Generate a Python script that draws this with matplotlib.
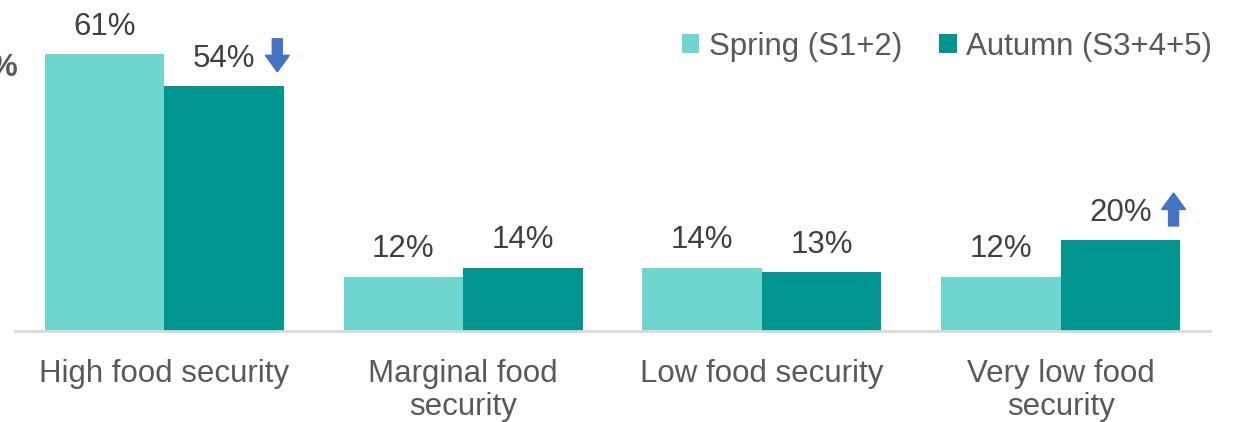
import matplotlib.pyplot as plt
import numpy as np
from matplotlib.patches import Polygon
from matplotlib.transforms import ScaledTranslation

plt.rcParams['font.family'] = ['Liberation Sans', 'DejaVu Sans']

categories = ['High food security', 'Marginal food\nsecurity',
              'Low food security', 'Very low food\nsecurity']
spring = [61, 12, 14, 12]
autumn = [54, 14, 13, 20]
series_names = ['Spring (S1+2)', 'Autumn (S3+4+5)']
# change marker next to the autumn label: -1 down, +1 up, 0 none
change = [-1, 0, 0, 1]

c_spring = '#6ED5CF'
c_autumn = '#00968F'
c_arrow = '#4472C4'
fs = 22.5

fig = plt.figure(figsize=(12.4, 4.22), dpi=100)
ax = fig.add_axes([15 / 1240, 91 / 422, 1195 / 1240, 331 / 422])

x = np.arange(len(categories))
w = 0.4
b1 = ax.bar(x - w / 2, spring, w, color=c_spring, label=series_names[0])
b2 = ax.bar(x + w / 2, autumn, w, color=c_autumn, label=series_names[1])

ax.set_xlim(-0.5, len(categories) - 0.5)
ax.set_ylim(0, 73.0)
ax.set_yticks([])
for s in ['top', 'right', 'left']:
    ax.spines[s].set_visible(False)
ax.spines['bottom'].set_color('#D9D9D9')
ax.spines['bottom'].set_linewidth(2)

ax.set_xticks(x)
ax.set_xticklabels(categories, fontsize=fs, color='#595959', linespacing=1.12)
ax.tick_params(axis='x', length=0, pad=20)

for bars, vals in [(b1, spring), (b2, autumn)]:
    for r, v in zip(bars, vals):
        ax.annotate(f'{v}%', (r.get_x() + r.get_width() / 2, v),
                    xytext=(0, 9), textcoords='offset points',
                    ha='center', va='bottom', fontsize=fs, color='#404040')


def block_arrow(xd, yd, up):
    # block arrow drawn in inches around a data point
    s = 1 if up else -1
    pts = np.array([[-0.05, -0.165], [0.05, -0.165], [0.05, 0.0],
                    [0.12, 0.0], [0.0, 0.165], [-0.12, 0.0], [-0.05, 0.0]])
    pts[:, 1] *= s
    tr = fig.dpi_scale_trans + ScaledTranslation(xd, yd, ax.transData)
    ax.add_patch(Polygon(pts, closed=True, transform=tr, color=c_arrow,
                         clip_on=False))


for i, d in enumerate(change):
    if d != 0:
        block_arrow(x[i] + w / 2 + 0.178, autumn[i] + 6.8, d > 0)

leg = ax.legend(loc='upper right', bbox_to_anchor=(1.02, 0.97), ncol=2,
                frameon=False, fontsize=fs, handlelength=0.55,
                handleheight=0.55, handletextpad=0.3, columnspacing=1.2,
                borderaxespad=0.3)
for t in leg.get_texts():
    t.set_color('#595959')

# axis unit, cut off at the left edge
fig.text(-0.009, 0.838, '%', fontsize=fs, color='#595959',
         fontweight='bold', ha='left', va='center')

fig.savefig('out.png', dpi=100)
